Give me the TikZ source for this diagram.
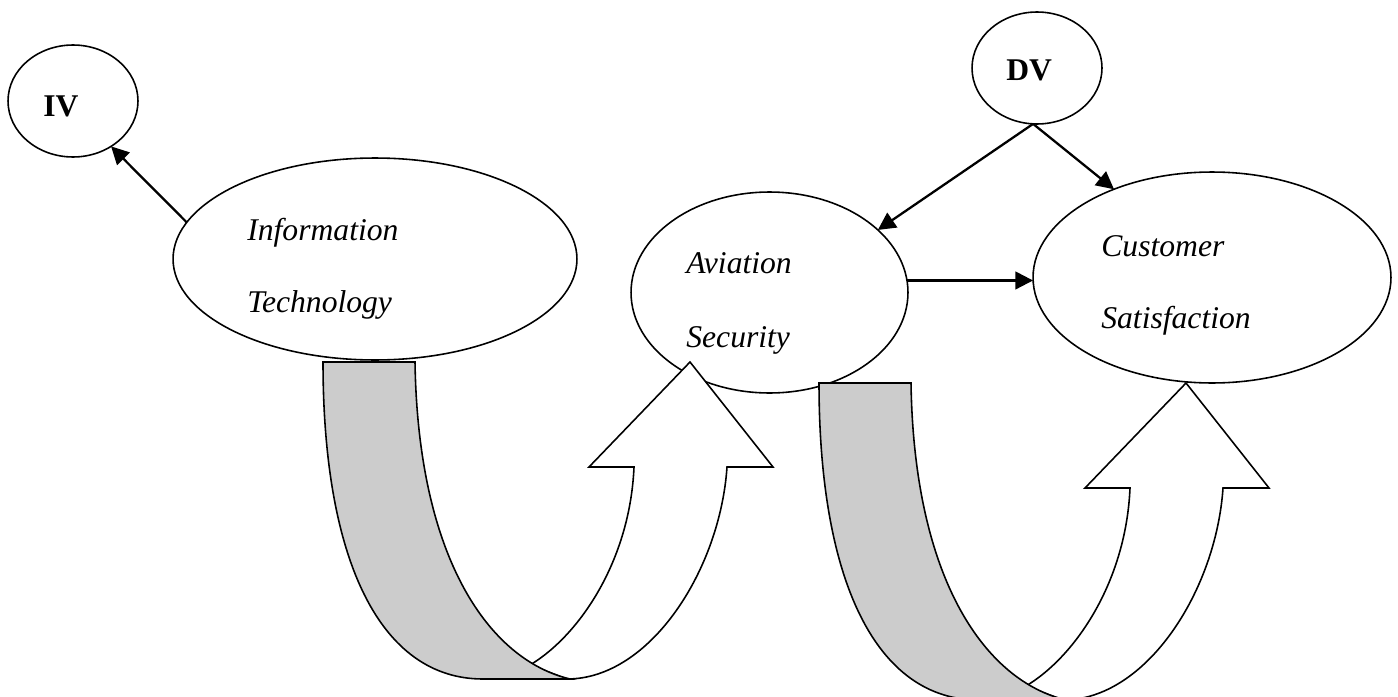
\documentclass[tikz,border=0pt]{standalone}
\usepackage{fontspec}
\setmainfont{Liberation Serif}
\usetikzlibrary{shapes.geometric,arrows.meta}
\tikzset{
    var/.style={ellipse, draw, line width=0.9pt, fill=white, inner sep=0pt, outer sep=0pt},
    lbl/.style={anchor=base west, inner sep=0pt, font=\fontsize{18}{22}\selectfont\itshape},
    tag/.style={anchor=base west, inner sep=0pt, font=\fontsize{18}{22}\selectfont\bfseries},
    conn/.style={-{Triangle[length=10pt,width=10pt]}, line width=1.3pt},
    band/.style={draw, line width=0.9pt, fill=black!20},
    turn/.style={draw, line width=0.9pt, fill=white}
}
\begin{document}
\begin{tikzpicture}[x=0.02cm, y=-0.02cm]
    \clip (0,0) rectangle (1398,696);
    \node[var, minimum width=2.6cm, minimum height=2.24cm] (iv) at (73,101) {};
    \node[var, minimum width=2.6cm, minimum height=2.24cm] (dv) at (1037,68) {};
    \node[var, minimum width=8.08cm, minimum height=4.04cm] (it) at (375,259) {};
    \node[var, minimum width=5.54cm, minimum height=4.02cm] (av) at (769.5,292.5) {};
    \node[var, minimum width=7.16cm, minimum height=4.22cm] (cs) at (1212,277.5) {};
    \node[tag] (ivtext) at (43,116) {IV};
    \node[tag] (dvtext) at (1006,81) {DV};
    \node[lbl] (ittop) at (247,240) {Information};
    \node[lbl] (itbot) at (247,312) {Technology};
    \node[lbl] (avtop) at (686,273) {Aviation};
    \node[lbl] (avbot) at (686,347) {Security};
    \node[lbl] (cstop) at (1101,256) {Customer};
    \node[lbl] (csbot) at (1101,328) {Satisfaction};
    \draw[conn] (it.169) -- (iv.-50);
    \draw[conn] (dv.266) -- (av.30);
    \draw[conn] (dv.266) -- (cs.138);
    \draw[conn] (av.5) -- (av.5 -| cs.west);
    % u-turn arrows
    \foreach \dx/\dy in {0/0, 496/21} {
        \begin{scope}[shift={(\dx,\dy)}]
            \draw[turn] (530,665) .. controls (580,635) and (630,560) .. (634,467)
                -- (589,467) -- (690,362) -- (773,467) -- (727,467)
                .. controls (720,570) and (650,679) .. (567,679) -- cycle;
            \draw[band] (323,362) -- (415,362) .. controls (418,560) and (490,660) .. (570,679)
                -- (483,679) .. controls (380,679) and (323,560) .. (323,362) -- cycle;
        \end{scope}
    }
\end{tikzpicture}
\end{document}
